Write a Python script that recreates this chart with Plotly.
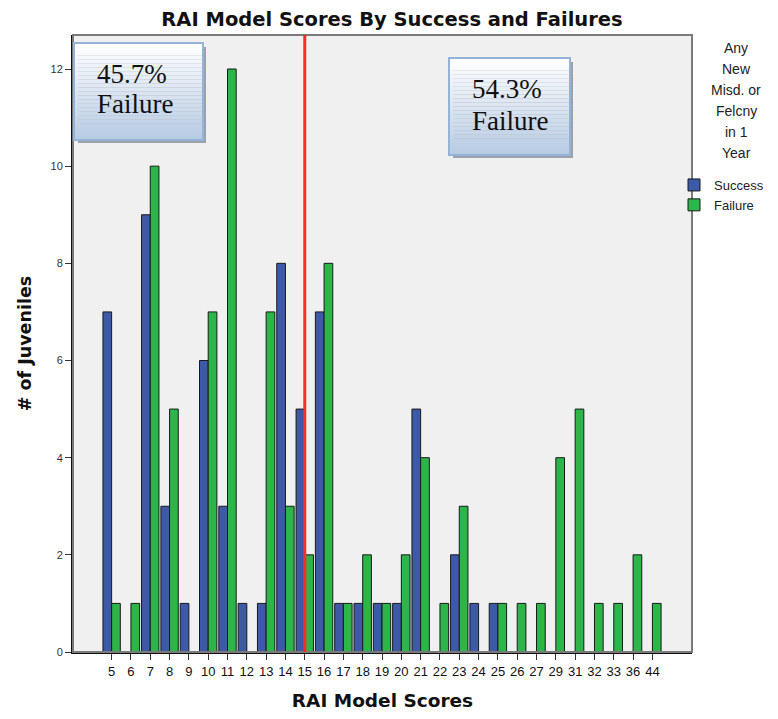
import plotly.graph_objects as go

categories = ["5", "6", "7", "8", "9", "10", "11", "12", "13", "14", "15", "16", "17", "18",
              "19", "20", "21", "22", "23", "24", "25", "26", "27", "29", "31", "32", "33", "36", "44"]
success = [7, 0, 9, 3, 1, 6, 3, 1, 1, 8, 5, 7, 1, 1, 1, 1, 5, 0, 2, 1, 1, 0, 0, 0, 0, 0, 0, 0, 0]
failure = [1, 1, 10, 5, 0, 7, 12, 0, 7, 3, 2, 8, 1, 2, 1, 2, 4, 1, 3, 0, 1, 1, 1, 4, 5, 1, 1, 2, 1]
yticks = [0, 2, 4, 6, 8, 10, 12]
cutoff = "15"
box_lines = [["45.7%", "Failure"], ["54.3%", "Failure"]]
legend_title_lines = ["Any", "New", "Misd. or", "Felcny", "in 1", "Year"]

# page body has an 8px margin, so the figure is drawn 8px in from the window edge
OFF = 8
W, H = 770, 703
ML, MR, MT, MB = 65, 86, 27, 59
PW, PH = W - ML - MR, H - MT - MB

def px(xr):
    return (xr - OFF - ML) / PW

def py(yr):
    return (H - MB - (yr - OFF)) / PH

xpos = list(range(len(categories)))

fig = go.Figure()
fig.add_trace(go.Bar(x=xpos, y=success, name="Success",
                     marker=dict(color="#3d5aa9", line=dict(color="#1a1a1a", width=1))))
fig.add_trace(go.Bar(x=xpos, y=failure, name="Failure",
                     marker=dict(color="#2cb549", line=dict(color="#1a1a1a", width=1))))

shapes = []
shapes.append(dict(type="rect", xref="paper", yref="paper", x0=0, x1=1, y0=0, y1=1,
                   line=dict(color="#7a7a7a", width=2), fillcolor="rgba(0,0,0,0)", layer="above"))
ci = categories.index(cutoff)
shapes.append(dict(type="line", xref="x", yref="paper", x0=ci, x1=ci, y0=0, y1=1,
                   line=dict(color="#ff2a2a", width=3), layer="above"))

annotations = []
boxes = [(74, 43, 203, 140, 31, 61), (449, 58, 570, 155, 31, 63)]
for (x0, y0, x1, y1, o1, o2), lines in zip(boxes, box_lines):
    shapes.append(dict(type="rect", xref="paper", yref="paper",
                       x0=px(x0 + 4), x1=px(x1 + 3), y0=py(y1 + 3), y1=py(y0 + 4),
                       line=dict(width=0), fillcolor="#9aa3ad", layer="above"))
    n = 24
    for i in range(n):
        t = i / (n - 1)
        r = int(255 + (184 - 255) * t)
        g = int(255 + (204 - 255) * t)
        b = int(255 + (228 - 255) * t)
        ya = y0 + (y1 - y0) * i / n
        yb = y0 + (y1 - y0) * (i + 1) / n
        shapes.append(dict(type="rect", xref="paper", yref="paper",
                           x0=px(x0), x1=px(x1), y0=py(yb), y1=py(ya),
                           line=dict(width=0), fillcolor=f"rgb({r},{g},{b})", layer="above"))
    shapes.append(dict(type="rect", xref="paper", yref="paper",
                       x0=px(x0), x1=px(x1), y0=py(y1), y1=py(y0),
                       line=dict(color="#95b3d7", width=2), fillcolor="rgba(0,0,0,0)", layer="above"))
    for txt, off in zip(lines, (o1, o2)):
        annotations.append(dict(xref="paper", yref="paper", x=px(x0 + 21), y=py(y0 + off),
                                xanchor="left", yanchor="middle", align="left", showarrow=False,
                                text=txt, font=dict(family="Liberation Serif", size=27, color="#111111")))

for i, line in enumerate(legend_title_lines):
    annotations.append(dict(xref="paper", yref="paper", x=px(736), y=py(48 + 21 * i),
                            xanchor="center", yanchor="middle", showarrow=False, text=line,
                            font=dict(family="Liberation Sans, Arial", size=14, color="#222222")))

fig.update_layout(
    width=W, height=H,
    margin=dict(l=ML, r=MR, t=MT, b=MB, autoexpand=False),
    paper_bgcolor="white", plot_bgcolor="#f0f0f0",
    barmode="group", bargap=0.1, bargroupgap=0,
    title=dict(text="<b>RAI Model Scores By Success and Failures</b>", x=px(392), xanchor="center",
               xref="paper", yref="container", y=1, yanchor="top", pad=dict(t=4),
               font=dict(family="DejaVu Sans", size=19.5, color="#111111")),
    xaxis=dict(range=[-2.0, len(categories) + 1.05], tickmode="array", tickvals=xpos,
               ticktext=categories, ticks="outside", ticklen=6, tickcolor="#333333",
               showgrid=False, zeroline=False, showline=True, linecolor="#111111", linewidth=2,
               automargin=False,
               tickfont=dict(family="Liberation Sans, Arial", size=13, color="#111111"),
               title=dict(text="<b>RAI Model Scores</b>", standoff=27,
                          font=dict(family="DejaVu Sans", size=18.5, color="#111111"))),
    yaxis=dict(range=[0, 12.7], tickmode="array", tickvals=yticks, ticks="outside", ticklen=6,
               tickcolor="#333333", showgrid=False, zeroline=False, showline=True,
               linecolor="#111111", linewidth=2, automargin=False,
               tickfont=dict(family="Liberation Sans, Arial", size=11, color="#333333"),
               title=dict(text="<b># of Juveniles</b>", standoff=14,
                          font=dict(family="DejaVu Sans", size=17.5, color="#111111"))),
    legend=dict(x=px(674), xanchor="left", y=py(170), yanchor="top",
                font=dict(family="Liberation Sans, Arial", size=13, color="#222222"),
                itemwidth=30, tracegroupgap=0, bgcolor="rgba(0,0,0,0)"),
    shapes=shapes,
    annotations=annotations,
)

fig.write_html("out.html")
